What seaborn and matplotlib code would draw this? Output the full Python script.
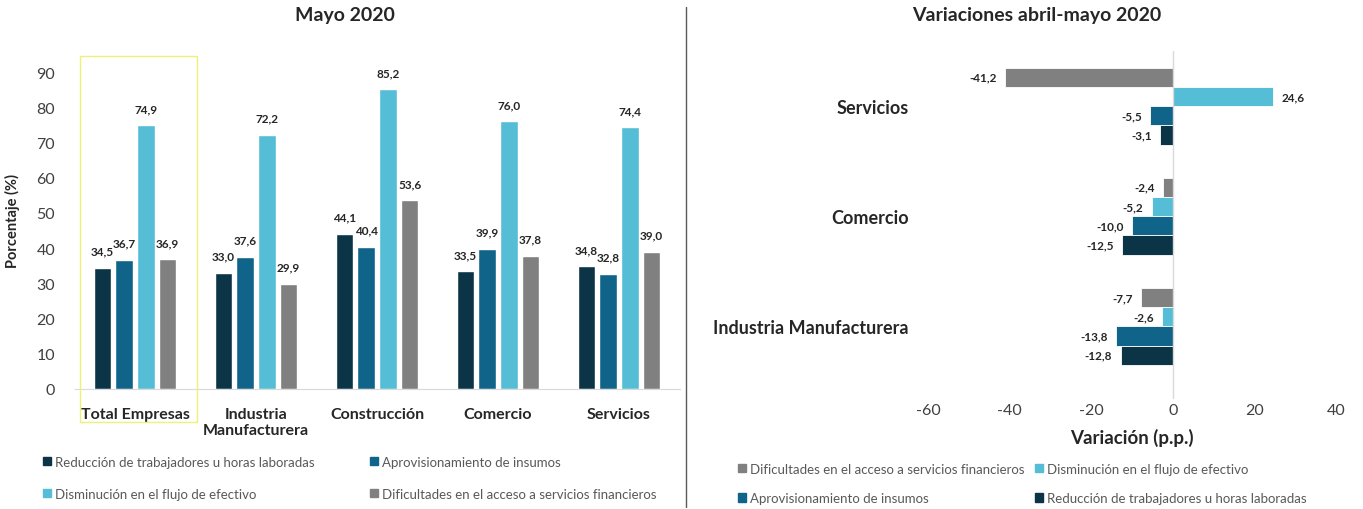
"""Mayo 2020: main business difficulties by sector, levels and April-May variation."""

import matplotlib.pyplot as plt
import matplotlib.patches as mpatches
import matplotlib.lines as mlines
import pandas as pd
import seaborn as sns

# --- data -------------------------------------------------------------------
series = [
    "Reducción de trabajadores u horas laboradas",
    "Aprovisionamiento de insumos",
    "Disminución en el flujo de efectivo",
    "Dificultades en el acceso a servicios financieros",
]
colors = ["#0B3447", "#106389", "#55BED6", "#808080"]

sectors_left = ["Total Empresas", "Industria\nManufacturera", "Construcción",
                "Comercio", "Servicios"]
reduccion = [34.5, 33.0, 44.1, 33.5, 34.8]
aprovisionamiento = [36.7, 37.6, 40.4, 39.9, 32.8]
disminucion = [74.9, 72.2, 85.2, 76.0, 74.4]
dificultades = [36.9, 29.9, 53.6, 37.8, 39.0]

sectors_right = ["Servicios", "Comercio", "Industria Manufacturera"]
var_reduccion = [-3.1, -12.5, -12.8]
var_aprovisionamiento = [-5.5, -10.0, -13.8]
var_disminucion = [24.6, -5.2, -2.6]
var_dificultades = [-41.2, -2.4, -7.7]

palette = dict(zip(series, colors))


def fmt(v):
    return f"{v:.1f}".replace(".", ",")


def long_frame(sectors, values):
    rows = []
    for name, vals in zip(series, values):
        for sec, v in zip(sectors, vals):
            rows.append({"sector": sec, "serie": name, "valor": v})
    return pd.DataFrame(rows)


df_left = long_frame(sectors_left, [reduccion, aprovisionamiento, disminucion, dificultades])
df_right = long_frame(sectors_right, [var_reduccion, var_aprovisionamiento,
                                      var_disminucion, var_dificultades])

sns.set_style("white")
plt.rcParams["font.family"] = ["Lato", "DejaVu Sans"]
plt.rcParams["axes.unicode_minus"] = False

W, H = 1363, 510
fig = plt.figure(figsize=(W / 100, H / 100), dpi=100)

# --- left panel: levels -----------------------------------------------------
ax1 = fig.add_axes([74.5 / W, 1 - 390 / H, 605 / W, 338 / H])
sns.barplot(data=df_left, x="sector", y="valor", hue="serie", hue_order=series,
            order=sectors_left, palette=palette, width=0.72, gap=0.2,
            legend=False, ax=ax1, saturation=1)
for cont in ax1.containers:
    ax1.bar_label(cont, labels=[fmt(b.get_height()) for b in cont], padding=8,
                  fontsize=8.5, fontweight="bold", color="#262626")
ax1.set_ylim(0, 96)
ax1.set_yticks(range(0, 91, 10))
ax1.set_xlim(-0.5, 4.5)
ax1.set_xlabel("")
ax1.set_ylabel("Porcentaje (%)", fontsize=10.5, fontweight="bold", color="#262626", labelpad=12)
ax1.tick_params(axis="y", length=0, pad=14, labelsize=11.5, labelcolor="#404040")
ax1.tick_params(axis="x", length=0, pad=13, labelsize=11.5)
for lab in ax1.get_xticklabels():
    lab.set_fontweight("bold")
    lab.set_color("#262626")
sns.despine(ax=ax1, left=True)
ax1.spines["bottom"].set_color("#D9D9D9")

fig.patches.append(mpatches.Rectangle((80 / W, 1 - 423 / H), 117 / W, 366 / H,
                                      transform=fig.transFigure, fill=False,
                                      edgecolor="#EEF07A", linewidth=1))

fig.text(345 / W, 1 - 16 / H, "Mayo 2020", ha="center", va="center",
         fontsize=14, fontweight="bold", color="#262626")

h = {s: mpatches.Patch(color=c) for s, c in zip(series, colors)}
left_order = [series[0], series[2], series[1], series[3]]
fig.legend([h[s] for s in left_order], left_order, ncol=2,
           loc="upper left", bbox_to_anchor=(31 / W, 1 - 445 / H),
           frameon=False, fontsize=9.5, labelcolor="#595959",
           handlelength=0.6, handleheight=0.6, handletextpad=0.3,
           columnspacing=4.2, labelspacing=1.5)

# --- separator --------------------------------------------------------------
fig.lines.append(mlines.Line2D([686 / W, 686 / W], [1 - 8 / H, 1 - 508 / H],
                               transform=fig.transFigure, color="#595959", linewidth=1))

# --- right panel: variation -------------------------------------------------
right_series = [series[3], series[2], series[1], series[0]]
ax2 = fig.add_axes([928 / W, 1 - 400 / H, 408 / W, 348 / H])
sns.barplot(data=df_right, y="sector", x="valor", hue="serie", hue_order=right_series,
            order=sectors_right, palette=palette, width=0.7, gap=0,
            legend=False, ax=ax2, orient="h", saturation=1,
            edgecolor="white", linewidth=0.6)
for cont in ax2.containers:
    ax2.bar_label(cont, labels=[fmt(b.get_width()) for b in cont], padding=6,
                  fontsize=8.5, fontweight="bold", color="#262626")
ax2.set_xlim(-60, 40)
ax2.set_xticks(range(-60, 41, 20))
ax2.set_ylim(2.66, -0.5)
ax2.axvline(0, color="#D9D9D9", linewidth=1)
ax2.set_ylabel("")
ax2.set_xlabel("Variación (p.p.)", fontsize=13.5, fontweight="bold", color="#262626", labelpad=8)
ax2.tick_params(axis="x", length=0, pad=3, labelsize=11.5, labelcolor="#404040")
ax2.tick_params(axis="y", length=0, pad=14, labelsize=13)
for lab in ax2.get_yticklabels():
    lab.set_fontweight("bold")
    lab.set_color("#262626")
sns.despine(ax=ax2, left=True, bottom=True)

fig.text(1037 / W, 1 - 16 / H, "Variaciones abril-mayo 2020", ha="center", va="center",
         fontsize=14, fontweight="bold", color="#262626")

right_legend = [series[3], series[1], series[2], series[0]]
fig.legend([h[s] for s in right_legend], right_legend, ncol=2,
           loc="upper left", bbox_to_anchor=(726 / W, 1 - 452 / H),
           frameon=False, fontsize=9.5, labelcolor="#595959",
           handlelength=0.6, handleheight=0.6, handletextpad=0.3,
           columnspacing=0.8, labelspacing=1.3)

fig.savefig("out.png", dpi=100)
